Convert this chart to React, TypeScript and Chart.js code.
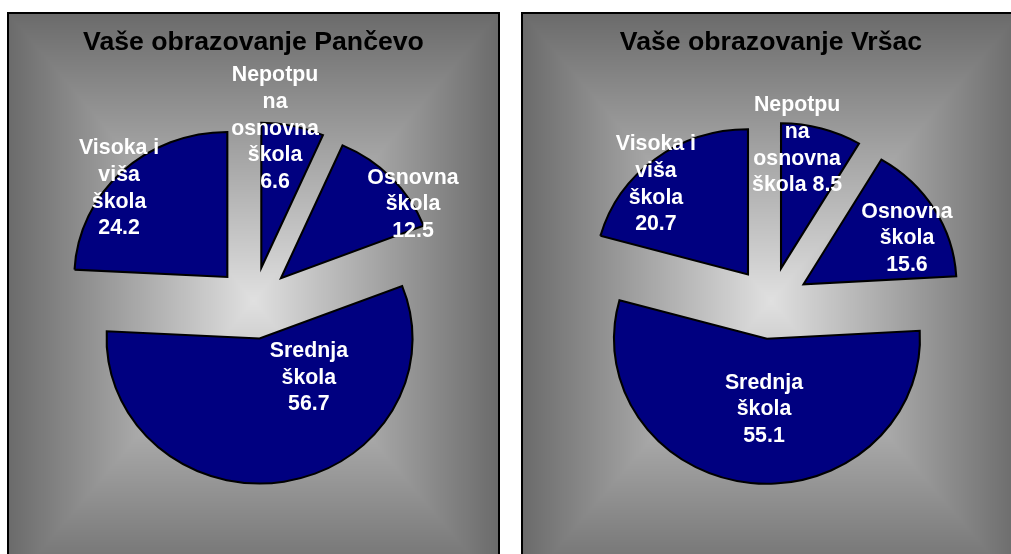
import React, { useEffect, useRef } from "react";
import { Chart, registerables } from "chart.js";

Chart.register(...registerables);

// ---------- data ----------
const categories = [
  "Nepotpuna osnovna škola",
  "Osnovna škola",
  "Srednja škola",
  "Visoka i viša škola",
];
const pancevoValues = [6.6, 12.5, 56.7, 24.2];
const vrsacValues = [8.5, 15.6, 55.1, 20.7];
const pancevoTitle = "Vaše obrazovanje Pančevo";
const vrsacTitle = "Vaše obrazovanje Vršac";

// label text as wrapped in the original
const pancevoLabelWraps = [
  ["Nepotpu", "na", "osnovna", "škola"],
  ["Osnovna", "škola"],
  ["Srednja", "škola"],
  ["Visoka i", "viša", "škola"],
];
const vrsacLabelWraps = [
  ["Nepotpu", "na", "osnovna", "škola"],
  ["Osnovna", "škola"],
  ["Srednja", "škola"],
  ["Visoka i", "viša", "škola"],
];
const pancevoValueInline = [false, false, false, false];
const vrsacValueInline = [true, false, false, false];

// ---------- styling / layout ----------
const FONT = '"Liberation Sans", Arial, Helvetica, sans-serif';
const SLICE_COLOR = "#000080";
const RADIUS = 145;
const X_STRETCH = 1.055;
const EXPLODE = 36;
const LABEL_SIZE = 21.33;
const LABEL_LH = 26.67;
const TITLE_SIZE = 26.67;
const PANEL_H = 578;

// label placement relative to slice (angle shift in degrees, radius factor)
const pancevoLabelShift = [-4.9, 11.6, -28.0, -5.6];
const pancevoLabelFactor = [1.223, 1.299, 0.632, 1.225];
const vrsacLabelShift = [-6.0, 5.3, -2.3, -6.4];
const vrsacLabelFactor = [1.113, 1.043, 0.724, 1.149];

const bgCache: Record<string, HTMLCanvasElement> = {};
function makeBg(w: number, h: number) {
  const key = w + "x" + h;
  if (bgCache[key]) return bgCache[key];
  const c = document.createElement("canvas");
  c.width = w;
  c.height = h;
  const g = c.getContext("2d")!;
  const img = g.createImageData(w, h);
  const cx = w / 2;
  const cy = h / 2;
  const inner = 224;
  const outer = 106;
  for (let y = 0; y < h; y++) {
    for (let x = 0; x < w; x++) {
      const t = Math.min(
        1,
        Math.max(Math.abs(x + 0.5 - cx) / cx, Math.abs(y + 0.5 - cy) / cy)
      );
      const v = Math.round(inner + (outer - inner) * t);
      const i = (y * w + x) * 4;
      img.data[i] = v;
      img.data[i + 1] = v;
      img.data[i + 2] = v;
      img.data[i + 3] = 255;
    }
  }
  g.putImageData(img, 0, 0);
  bgCache[key] = c;
  return c;
}

const panelPlugin = {
  id: "panel",
  beforeDraw(chart: any) {
    const { ctx, width, height } = chart;
    ctx.save();
    ctx.drawImage(makeBg(width, height), 0, 0);
    ctx.lineWidth = 2;
    ctx.strokeStyle = "#000";
    ctx.strokeRect(1, 1, width - 2, height - 2);
    ctx.restore();
  },
};

const explodePlugin = {
  id: "explode",
  beforeDatasetDraw(chart: any, args: any, opts: any) {
    const ctx = chart.ctx;
    const d = opts.distance || 0;
    const sx = opts.stretch || 1;
    args.meta.data.forEach((arc: any) => {
      const mid = (arc.startAngle + arc.endAngle) / 2;
      ctx.save();
      ctx.translate(arc.x, arc.y);
      ctx.scale(sx, 1);
      ctx.translate(-arc.x, -arc.y);
      ctx.translate(Math.cos(mid) * d, Math.sin(mid) * d);
      arc.draw(ctx);
      ctx.restore();
    });
    return false;
  },
};

const labelPlugin = {
  id: "sliceLabels",
  afterDatasetsDraw(chart: any, _args: any, opts: any) {
    const ctx = chart.ctx;
    const meta = chart.getDatasetMeta(0);
    const data = chart.data.datasets[0].data as number[];
    ctx.save();
    ctx.font = `bold ${LABEL_SIZE}px ${FONT}`;
    ctx.fillStyle = "#ffffff";
    ctx.textAlign = "center";
    ctx.textBaseline = "alphabetic";
    const capH = 0.716 * LABEL_SIZE;
    meta.data.forEach((arc: any, i: number) => {
      const ang =
        (arc.startAngle + arc.endAngle) / 2 + (opts.shift[i] * Math.PI) / 180;
      const r = arc.outerRadius * opts.factor[i];
      const cx = arc.x + Math.cos(ang) * r;
      const cy = arc.y + Math.sin(ang) * r;
      const lines = opts.wraps[i].slice();
      const v = data[i].toFixed(1);
      if (opts.inline[i]) lines[lines.length - 1] += " " + v;
      else lines.push(v);
      const n = lines.length;
      const first = cy + (capH - (n - 1) * LABEL_LH) / 2;
      lines.forEach((l: string, j: number) => {
        ctx.fillText(l, cx, first + j * LABEL_LH);
      });
    });
    ctx.restore();
  },
};

type PieProps = {
  values: number[];
  title: string;
  wraps: string[][];
  inline: boolean[];
  shift: number[];
  factor: number[];
  left: number;
  top: number;
  width: number;
};

function PiePanel(p: PieProps) {
  const ref = useRef<HTMLCanvasElement>(null);
  useEffect(() => {
    if (!ref.current) return;
    const chart = new Chart(ref.current, {
      type: "pie",
      data: {
        labels: categories,
        datasets: [
          {
            data: p.values,
            backgroundColor: SLICE_COLOR,
            borderColor: "#000000",
            borderWidth: 2,
            borderJoinStyle: "miter",
          } as any,
        ],
      },
      options: {
        responsive: false,
        animation: false,
        events: [],
        radius: RADIUS,
        layout: { padding: { top: 0, bottom: 43, left: 0, right: 0 } },
        plugins: {
          legend: { display: false },
          tooltip: { enabled: false },
          title: {
            display: true,
            text: p.title,
            color: "#000000",
            font: { family: FONT, size: TITLE_SIZE, weight: "bold" },
            padding: { top: 15, bottom: 0 },
          },
          explode: { distance: EXPLODE, stretch: X_STRETCH },
          sliceLabels: {
            wraps: p.wraps,
            inline: p.inline,
            shift: p.shift,
            factor: p.factor,
          },
        } as any,
      } as any,
      plugins: [panelPlugin, explodePlugin, labelPlugin],
    });
    return () => chart.destroy();
  }, []);
  return (
    <canvas
      ref={ref}
      width={p.width}
      height={PANEL_H}
      style={{
        position: "absolute",
        left: p.left,
        top: p.top,
        width: p.width,
        height: PANEL_H,
      }}
    />
  );
}

export default function App() {
  return (
    <div
      style={{
        position: "fixed",
        left: 0,
        top: 0,
        width: 1011,
        height: 554,
        overflow: "hidden",
        background: "#ffffff",
      }}
    >
      <PiePanel
        values={pancevoValues}
        title={pancevoTitle}
        wraps={pancevoLabelWraps}
        inline={pancevoValueInline}
        shift={pancevoLabelShift}
        factor={pancevoLabelFactor}
        left={7}
        top={12}
        width={493}
      />
      <PiePanel
        values={vrsacValues}
        title={vrsacTitle}
        wraps={vrsacLabelWraps}
        inline={vrsacValueInline}
        shift={vrsacLabelShift}
        factor={vrsacLabelFactor}
        left={521}
        top={12}
        width={500}
      />
    </div>
  );
}
